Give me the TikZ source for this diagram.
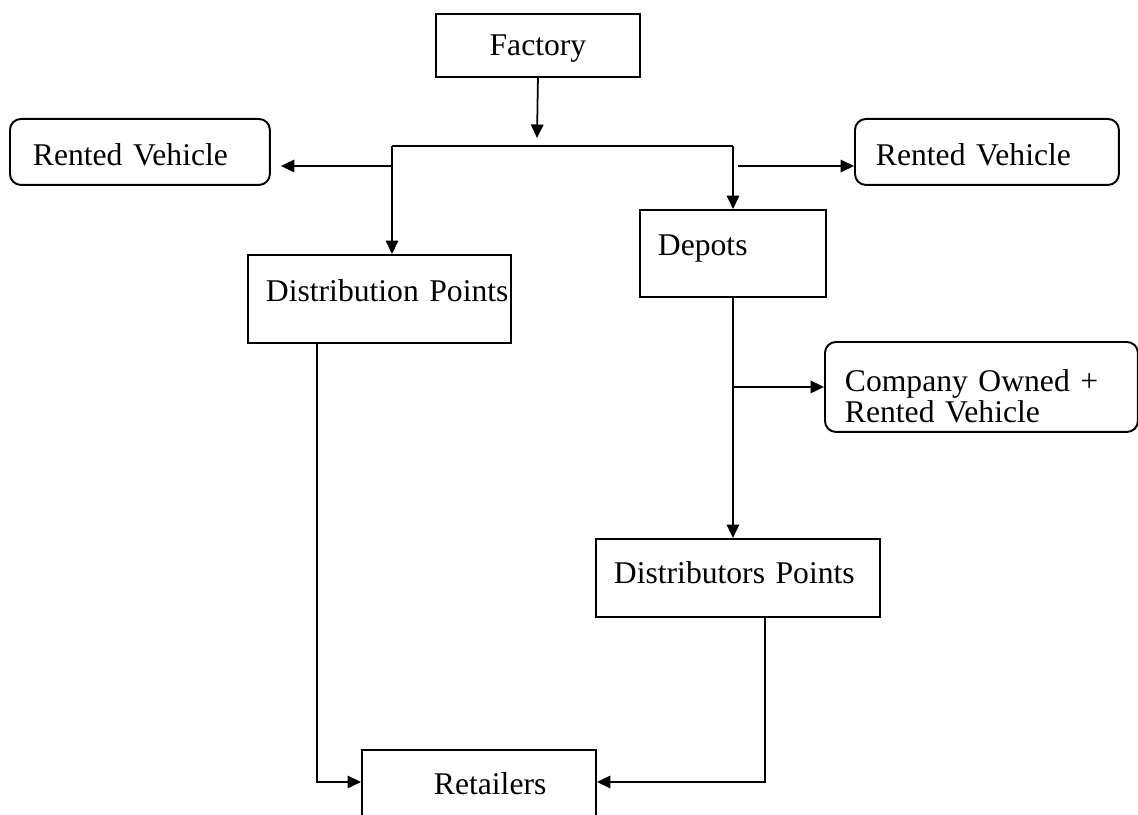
\documentclass[tikz,border=0pt]{standalone}
\usepackage{fontspec}
\setmainfont{Liberation Serif}
\usepackage{tikz}
\usetikzlibrary{arrows.meta,positioning,calc}

\begin{document}
\begin{tikzpicture}[x=0.02cm,y=-0.02cm,
  box/.style={draw,line width=1.1pt,anchor=north west,align=left,inner ysep=0pt,font=\fontsize{18}{17.6}\selectfont},
  vehicle/.style={box,rounded corners=0.22cm},
  link/.style={line width=1pt},
  arr/.style={link,-{Triangle[length=0.27cm,width=0.25cm]}}
]
\useasboundingbox (0,0) rectangle (1138,814);
\clip (0,0) rectangle (1138,814);
\node[box,align=center,minimum width=4.08cm,minimum height=1.26cm,text height=0.5cm,text depth=0.08cm] (fac) at (435,13) {Factory};
\node[vehicle,text width=4.28cm,inner xsep=0.46cm,minimum height=1.32cm,text height=0.6cm,text depth=0.04cm] (rvl) at (9,118) {Rented Vehicle};
\node[vehicle,text width=4.44cm,inner xsep=0.42cm,minimum height=1.32cm,text height=0.6cm,text depth=0.04cm] (rvr) at (854,118) {Rented Vehicle};
\node[box,text width=4.54cm,inner xsep=0.36cm,minimum height=1.76cm,text height=0.45cm,text depth=0.33cm] (dist) at (247,254) {\mbox{Distribution Points}};
\node[box,text width=3cm,inner xsep=0.36cm,minimum height=1.74cm,text height=0.45cm,text depth=0.35cm] (dep) at (639,209) {Depots};
\node[vehicle,text width=5.46cm,inner xsep=0.4cm,minimum height=1.8cm,text height=0.45cm,text depth=0.25cm] (comp) at (824,341) {Company Owned +\\Rented Vehicle};
\node[box,text width=4.96cm,inner xsep=0.36cm,minimum height=1.56cm,text height=0.45cm,text depth=0.21cm] (dpts) at (595,538) {Distributors Points};
\node[box,text width=1.8cm,inner xsep=1.44cm,minimum height=1.82cm,text height=0.44cm,text depth=0.46cm] (ret) at (361,749) {\mbox{Retailers}};

\coordinate (fj) at (537,138);
\coordinate (bl) at (392,146);
\coordinate (br) at (733,146);
\coordinate (lj) at (392,166);
\coordinate (rj) at (738,166);
\draw[arr] (fac.south) -- (fj);
\draw[link] (bl) -- (br);
\draw[arr] (bl) -- (bl |- dist.north);
\draw[arr] (br) -- (br |- dep.north);
\draw[arr,shorten >=0.2cm] (lj) -- (rvl.east |- lj);
\draw[arr] (rj) -- (rvr.west |- rj);
\draw[arr] (dep.south) -- (dep.south |- dpts.north);
\draw[arr] (dep.south |- comp.west) -- (comp.west);
\draw[arr] ([xshift=0.54cm]dpts.south) |- ([yshift=0.27cm]ret.east);
\draw[arr] ([xshift=-1.25cm]dist.south) |- ([yshift=0.27cm]ret.west);
\end{tikzpicture}
\end{document}
